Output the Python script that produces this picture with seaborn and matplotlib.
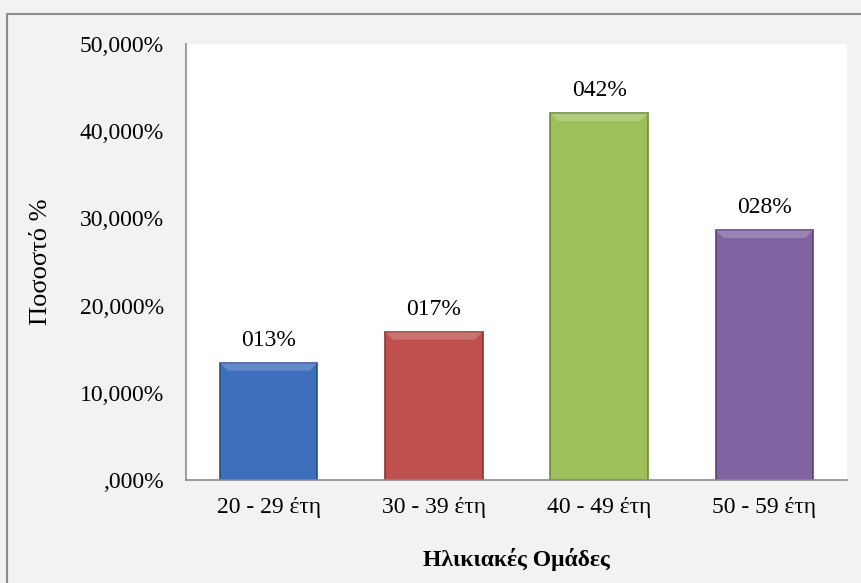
import matplotlib
matplotlib.use("Agg")
import matplotlib.pyplot as plt
from matplotlib.patches import Rectangle, Polygon
import seaborn as sns
import pandas as pd

categories = ["20 - 29 έτη", "30 - 39 έτη", "40 - 49 έτη", "50 - 59 έτη"]
values = [13.45, 17.0, 42.05, 28.65]
colors = ["#3d6fbd", "#c0504d", "#9dc05a", "#8064a2"]
edge_colors = ["#2a4f8a", "#8c3431", "#6f8a3c", "#5a4576"]
y_ticks = [0, 10, 20, 30, 40, 50]
y_tick_labels = [",000%", "10,000%", "20,000%", "30,000%", "40,000%", "50,000%"]

df = pd.DataFrame({"group": categories, "value": values})

sns.set_theme(style="white")
plt.rcParams["font.family"] = ["Liberation Serif", "DejaVu Serif"]

fig = plt.figure(figsize=(8.62, 5.83), dpi=100)
fig.patch.set_facecolor("#f2f2f2")
W, H = 862, 583
ax = fig.add_axes([186 / W, 1 - 480 / H, (847 - 186) / W, (480 - 44) / H])
ax.set_facecolor("white")

sns.barplot(data=df, x="group", y="value", hue="group", palette=colors,
            legend=False, width=0.59, ax=ax, saturation=1)

bars = list(ax.patches)
for patch, ec in zip(bars, edge_colors):
    patch.set_edgecolor(ec)
    patch.set_linewidth(1.2)
    x0, y0 = patch.get_x(), patch.get_y()
    w, h = patch.get_width(), patch.get_height()
    # soft bevel highlight along the top edge
    dx = w * 0.08
    dy = 0.9
    top = Polygon([(x0, y0 + h), (x0 + w, y0 + h), (x0 + w - dx, y0 + h - dy),
                   (x0 + dx, y0 + h - dy)], closed=True, facecolor="white",
                  alpha=0.2, edgecolor="none", zorder=patch.get_zorder() + 0.1)
    ax.add_patch(top)

for patch, v in zip(bars, values):
    ax.text(patch.get_x() + patch.get_width() / 2, v + 1.4, f"{int(v):03d}%",
            ha="center", va="bottom", fontsize=17, color="black")

ax.set_ylim(0, 50)
ax.set_yticks(y_ticks)
ax.set_yticklabels(y_tick_labels, fontsize=17, color="black")
ax.tick_params(axis="x", labelsize=17, colors="black", pad=12, length=0)
ax.tick_params(axis="y", pad=16, length=0)
ax.set_xlabel("Ηλικιακές Ομάδες", fontsize=17, fontweight="bold",
              color="black", labelpad=22)
ax.set_ylabel("Ποσοστό %", fontsize=19, color="black", labelpad=20)

for side in ["top", "right"]:
    ax.spines[side].set_visible(False)
for side in ["left", "bottom"]:
    ax.spines[side].set_color("#8c8c8c")
    ax.spines[side].set_linewidth(1.2)

fig.patches.append(Rectangle((7 / W, -0.1), 1.2, 1 - 14 / H + 0.1,
                             transform=fig.transFigure, fill=False,
                             edgecolor="#8c8c8c", linewidth=1.5))

fig.savefig("out.png", dpi=100, facecolor=fig.get_facecolor())
